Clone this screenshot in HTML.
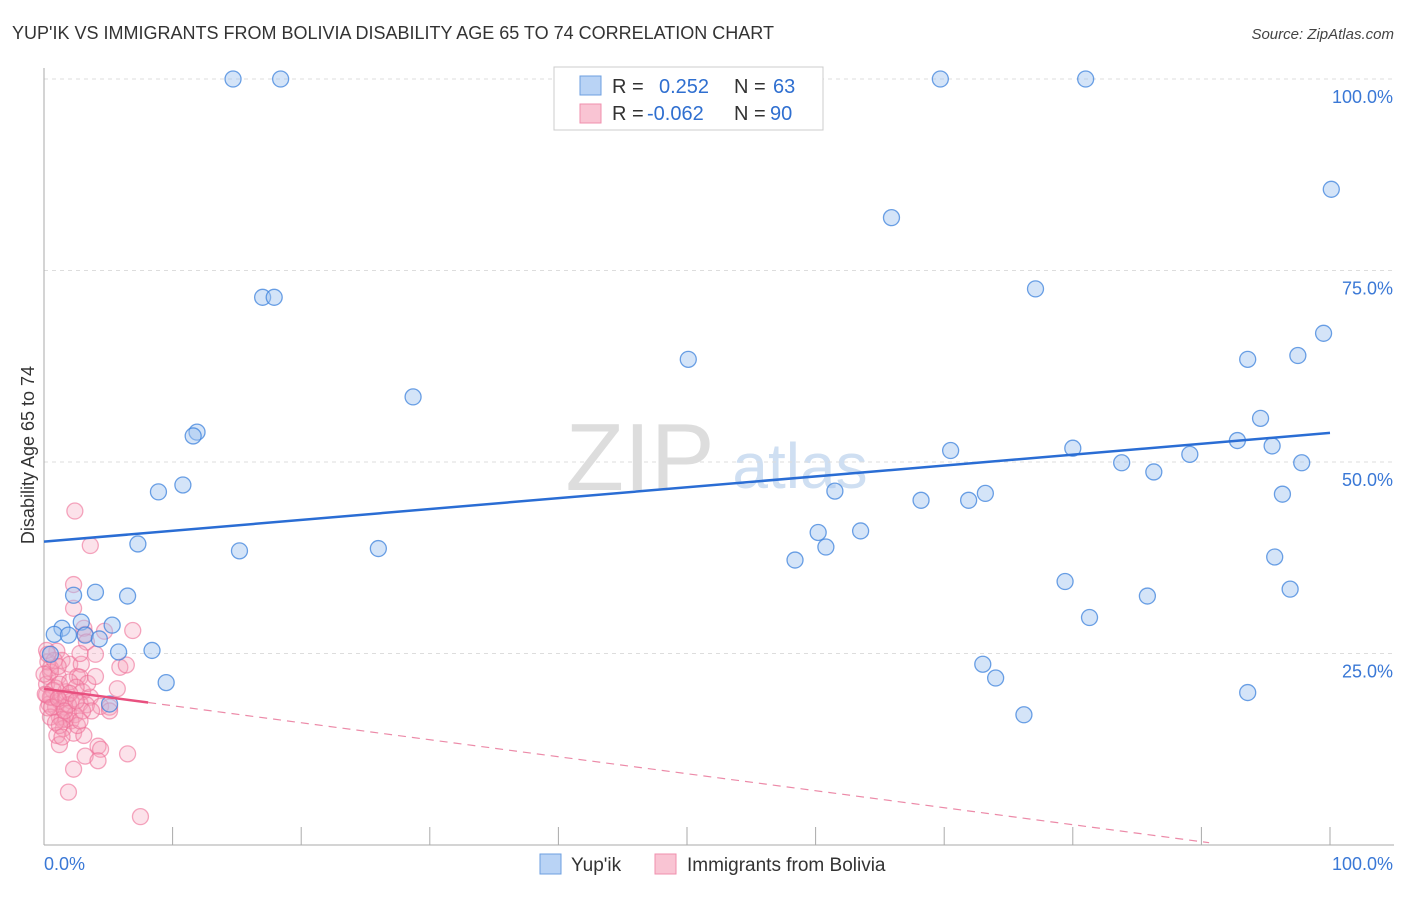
<!DOCTYPE html>
<html><head><meta charset="utf-8"><style>
body{margin:0;background:#fff;font-family:"Liberation Sans",sans-serif}
svg text{font-family:"Liberation Sans",sans-serif}
</style></head><body>
<svg width="1406" height="892" viewBox="0 0 1406 892" xmlns="http://www.w3.org/2000/svg">
<text x="12" y="39" font-size="18" fill="#333">YUP'IK VS IMMIGRANTS FROM BOLIVIA DISABILITY AGE 65 TO 74 CORRELATION CHART</text>
<text x="1394" y="39" font-size="15" fill="#444" text-anchor="end" font-style="italic">Source: ZipAtlas.com</text>
<text x="640" y="490" font-size="96" fill="#ddd" font-family="Liberation Serif" text-anchor="middle">ZIP</text>
<text x="800" y="488" font-size="64" fill="#cfdff2" text-anchor="middle">atlas</text>
<g id="grid"></g>
<g id="axes"></g>
<text transform="translate(34,455) rotate(-90)" font-size="18" fill="#333" text-anchor="middle">Disability Age 65 to 74</text>
<g id="pts"></g>
<g>
<rect x="554" y="67" width="269" height="63" fill="#fff" stroke="#ccc"/>
<rect x="580" y="76" width="21" height="19" fill="#b9d3f5" stroke="#6d9fe0"/>
<rect x="580" y="104" width="21" height="19" fill="#f9c4d3" stroke="#f08fae"/>
<text x="612" y="93" font-size="20" fill="#333">R =</text><text x="659" y="93" font-size="20" fill="#2f6fd0">0.252</text>
<text x="734" y="93" font-size="20" fill="#333">N =</text><text x="773" y="93" font-size="20" fill="#2f6fd0">63</text>
<text x="612" y="120" font-size="20" fill="#333">R =</text><text x="647" y="120" font-size="20" fill="#2f6fd0">-0.062</text>
<text x="734" y="120" font-size="20" fill="#333">N =</text><text x="770" y="120" font-size="20" fill="#2f6fd0">90</text>
</g>
<g>
<rect x="540" y="854" width="21" height="20" fill="#b9d3f5" stroke="#6d9fe0"/>
<text x="571" y="871" font-size="19" fill="#333">Yup'ik</text>
<rect x="655" y="854" width="21" height="20" fill="#f9c4d3" stroke="#f08fae"/>
<text x="687" y="871" font-size="19" fill="#333">Immigrants from Bolivia</text>
</g>
</svg>
<script>
const yTicks=[100,75,50,25];
const yTickLabels=["100.0%","75.0%","50.0%","25.0%"];
const xTicks=[0,10,20,30,40,50,60,70,80,90,100];
const blueX=[14.7,18.4,69.7,81,100.1,65.9,17,17.9,77.1,99.5,50.1,93.6,97.5,28.7,94.6,11.9,11.6,92.8,95.5,70.5,80,89.1,83.8,86.3,97.8,8.9,10.8,61.5,68.2,71.9,73.2,96.3,15.2,26,7.3,60.2,63.5,60.8,58.4,95.7,79.4,85.8,96.9,81.3,4,2.3,6.5,2.9,5.3,1.4,0.8,1.9,3.2,4.3,0.5,5.8,8.4,73,74,76.2,93.6,9.5,5.1];
const blueY=[100,100,100,100,85.6,81.9,71.5,71.5,72.6,66.8,63.4,63.4,63.9,58.5,55.7,53.9,53.4,52.8,52.1,51.5,51.8,51,49.9,48.7,49.9,46.1,47,46.2,45,45,45.9,45.8,38.4,38.7,39.3,40.8,41,38.9,37.2,37.6,34.4,32.5,33.4,29.7,33,32.6,32.5,29.1,28.7,28.3,27.5,27.4,27.4,26.9,24.9,25.2,25.4,23.6,21.8,17,19.9,21.2,18.4];
const pinkX=[2.4,3.6,2.3,2.3,3.1,3.2,4.7,6.9,3.3,1,1.4,2,2.9,4,2.8,0.5,5.9,6.4,2.6,2.8,0.3,1.1,0.2,0.9,1.7,3,5.7,3.6,0.6,1.2,2.1,2.8,3.3,4.4,5.1,0.4,0.9,1.6,1.9,2.4,1.2,1.7,2.1,1.4,0.5,0.3,0.7,0.3,0.2,0.5,1.2,2,3.4,4,0.2,0.5,1.5,1,2.3,3.1,1.2,4.2,4.4,3.2,4.2,6.5,2.3,1.9,7.5,0.9,1.2,2.6,1.7,3.7,5.1,0.8,1.1,0.3,0,0.1,0.6,2.5,3,1.4,1.9,2,1.1,1.6,2.5,2.8];
const pinkY=[43.6,39.1,34,30.9,28.3,27.5,27.9,28,26.5,25.3,24.1,23.6,23.6,24.9,25,23.1,23.2,23.5,22,21.9,22,22,21,20.5,20,20,20.4,19.3,19.3,18.8,18.8,18.5,18.3,18.1,18,18.4,18,18,17.2,17,16.7,16.4,16.2,16.4,16.7,17.9,20.2,23.9,25.4,22.6,21,21.3,21.1,22,19.6,19.3,15.2,14.3,14.6,14.3,13.1,12.9,12.5,11.6,11,11.9,9.9,6.9,3.7,16,15.6,15.6,19.2,17.5,17.5,24.1,23.3,24.9,22.3,19.7,18,20.6,17.5,14.1,18.3,19.8,19.1,17.5,18.8,16.2];
const blueTrend=[[0,39.6],[100,53.8]];
const pinkTrendSolid=[[0,20.4],[8.1,18.6]];
const pinkTrendDash=[[8.1,18.6],[90.6,0.3]];
const X0=44,X1=1330,Y0=845,Y100=79;
const sx=v=>X0+(X1-X0)*v/100, sy=v=>Y0-(Y0-Y100)*v/100;
const NS="http://www.w3.org/2000/svg";
function mk(tag,attrs,parent){const e=document.createElementNS(NS,tag);for(const k in attrs)e.setAttribute(k,attrs[k]);parent.appendChild(e);return e;}
const grid=document.getElementById('grid'),axes=document.getElementById('axes'),pts=document.getElementById('pts');
yTicks.forEach((t,i)=>{
 const l=mk('line',{x1:X0,x2:1394,y1:sy(t),y2:sy(t),stroke:'#ddd','stroke-dasharray':'4,4'},grid);
 
 
 const tx=mk('text',{x:1393,y:sy(t)+24,'font-size':18,fill:'#3a78d6','text-anchor':'end'},axes);
 tx.textContent=yTickLabels[i];
 
 
});
const ya=mk('line',{x1:X0,x2:X0,y1:68,y2:Y0,stroke:'#aaa'},axes);


const xa=mk('line',{x1:X0,x2:1394,y1:Y0,y2:Y0,stroke:'#aaa'},axes);


xTicks.forEach(t=>{
 const l=mk('line',{x1:sx(t),x2:sx(t),y1:827,y2:Y0,stroke:'#aaa'},axes);
 
 
});
const xl0=mk('text',{x:44,y:870,'font-size':18,fill:'#3a78d6'},axes);xl0.textContent='0.0%';


const xl1=mk('text',{x:1393,y:870,'font-size':18,fill:'#3a78d6','text-anchor':'end'},axes);xl1.textContent='100.0%';


pinkX.forEach((x,i)=>{
 const c=mk('circle',{cx:sx(x),cy:sy(pinkY[i]),r:8,fill:'rgba(246,160,186,0.3)',stroke:'rgba(238,110,150,0.6)','stroke-width':1.3},pts);
 
 
});
blueX.forEach((x,i)=>{
 const c=mk('circle',{cx:sx(x),cy:sy(blueY[i]),r:8,fill:'rgba(160,195,240,0.45)',stroke:'rgba(60,130,220,0.75)','stroke-width':1.3},pts);
 
 
});
function ln(p,attrs,name){const l=mk('line',Object.assign({x1:sx(p[0][0]),y1:sy(p[0][1]),x2:sx(p[1][0]),y2:sy(p[1][1])},attrs),pts);
 
 }
ln(blueTrend,{stroke:'#2a6dd4','stroke-width':2.5},'yupik-trendline');
ln(pinkTrendSolid,{stroke:'#e8507f','stroke-width':2.5},'bolivia-trendline');
ln(pinkTrendDash,{stroke:'#ec8aa8','stroke-width':1.2,'stroke-dasharray':'8,6'},'bolivia-trendline-extension');
</script>
</body></html>
